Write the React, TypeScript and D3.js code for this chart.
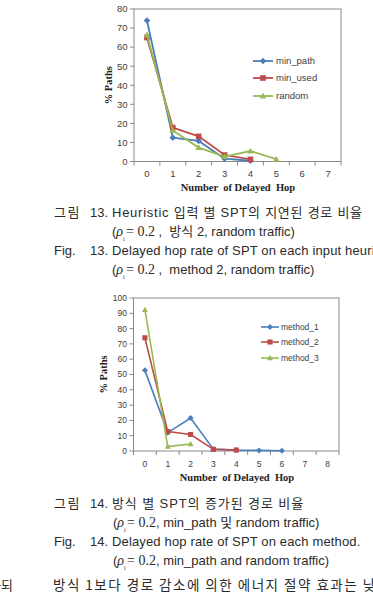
import React from 'react';
import * as d3 from 'd3';

// Fig. 13 data
const hops13 = ['0', '1', '2', '3', '4', '5', '6', '7'];
const yTicks13 = [0, 10, 20, 30, 40, 50, 60, 70, 80];
const minPathValues = [74, 12.5, 10.8, 1.5, 0.4];
const minUsedValues = [65, 17.8, 13.2, 3.4, 1.1];
const randomValues = [66.5, 16.3, 7.3, 2.6, 5.5, 1.2];
const names13 = ['min_path', 'min_used', 'random'];

// Fig. 14 data
const hops14 = ['0', '1', '2', '3', '4', '5', '6', '7', '8'];
const yTicks14 = [0, 10, 20, 30, 40, 50, 60, 70, 80, 90, 100];
const method1Values = [52.7, 12, 21.5, 1.2, 0.6, 0.4, 0.2];
const method2Values = [74, 12.7, 10.8, 1.1, 0.6];
const method3Values = [92.3, 2.9, 4.6];
const names14 = ['method_1', 'method_2', 'method_3'];

const colors = ['#4a7ebb', '#be4b48', '#98b954'];
const shapes = ['diamond', 'square', 'triangle'];
const SANS = '"Liberation Sans", Arial, sans-serif';
const SERIF = '"Liberation Serif", "Times New Roman", serif';
const KR = '"Liberation Sans", "Noto Sans CJK KR", sans-serif';
const TEXT = '#2b2b2b';

function markerPath(shape: string, r: number) {
  if (shape === 'diamond') return `M0,${-r}L${r},0L0,${r}L${-r},0Z`;
  if (shape === 'square') return `M${-r * 0.85},${-r * 0.85}h${r * 1.7}v${r * 1.7}h${-r * 1.7}Z`;
  return `M0,${-r}L${r},${r * 0.75}L${-r},${r * 0.75}Z`;
}

interface ChartProps {
  cats: string[];
  ticks: number[];
  series: number[][];
  names: string[];
  left: number;
  right: number;
  top: number;
  bottom: number;
  tickFont: number;
  labelY: number;
  titleY: number;
  titleX: number;
  yTitleX: number;
  legendX: [number, number, number];
  legendRows: number[];
  legendFont: number;
  marker: number;
  lineW: number;
}

function LineChart(p: ChartProps) {
  const x = d3.scaleBand<string>().domain(p.cats).range([p.left, p.right]);
  const y = d3.scaleLinear().domain([0, d3.max(p.ticks) as number]).range([p.bottom, p.top]);
  const cx = (i: number) => (x(p.cats[i]) as number) + x.bandwidth() / 2;
  const line = d3.line<number>().x((_, i) => cx(i)).y(d => y(d));
  const bounds = p.cats.map(c => x(c) as number).concat([p.right]);
  const axisColor = '#8a8a8a';

  return (
    <g>
      <rect x={p.left} y={p.top} width={p.right - p.left} height={p.bottom - p.top} fill="none" stroke={axisColor} strokeWidth={1} />
      {p.ticks.map(t => (
        <g key={t}>
          <line x1={p.left - 4} x2={p.left} y1={y(t)} y2={y(t)} stroke={axisColor} />
          <text x={p.left - 6.5} y={y(t)} dy="0.35em" textAnchor="end" fontFamily={SANS} fontSize={p.tickFont} fill="#404040">{t}</text>
        </g>
      ))}
      {bounds.map((b, i) => (
        <line key={i} x1={b} x2={b} y1={p.bottom} y2={p.bottom + 4} stroke={axisColor} />
      ))}
      {p.cats.map((c, i) => (
        <text key={c} x={cx(i)} y={p.labelY} dy="0.35em" textAnchor="middle" fontFamily={SANS} fontSize={p.tickFont} fill="#404040">{c}</text>
      ))}
      <text x={p.titleX} y={p.titleY} dy="0.35em" textAnchor="middle" fontFamily={SERIF} fontWeight="bold" fontSize={10.5} fill="#222" style={{ whiteSpace: 'pre' }}>{'Number  of Delayed  Hop'}</text>
      <text transform={`translate(${p.yTitleX},${(p.top + p.bottom) / 2}) rotate(-90)`} dy="0.35em" textAnchor="middle" fontFamily={SERIF} fontWeight="bold" fontSize={10.5} fill="#222">% Paths</text>
      {p.series.map((s, k) => (
        <g key={k}>
          <path d={line(s) as string} fill="none" stroke={colors[k]} strokeWidth={p.lineW} />
          {s.map((v, i) => (
            <path key={i} transform={`translate(${cx(i)},${y(v)})`} d={markerPath(shapes[k], p.marker)} fill={colors[k]} />
          ))}
        </g>
      ))}
      {p.names.map((n, k) => (
        <g key={n}>
          <line x1={p.legendX[0]} x2={p.legendX[1]} y1={p.legendRows[k]} y2={p.legendRows[k]} stroke={colors[k]} strokeWidth={p.lineW} />
          <path transform={`translate(${(p.legendX[0] + p.legendX[1]) / 2},${p.legendRows[k]})`} d={markerPath(shapes[k], p.marker)} fill={colors[k]} />
          <text x={p.legendX[2]} y={p.legendRows[k]} dy="0.35em" fontFamily={SANS} fontSize={p.legendFont} fill="#404040">{n}</text>
        </g>
      ))}
    </g>
  );
}

function Rho({ x, y, rest }: { x: number; y: number; rest: string }) {
  return (
    <text x={x} y={y} dy="0.35em" fontSize={13} fill={TEXT} style={{ whiteSpace: 'pre' }}>
      <tspan fontFamily={SANS}>(</tspan>
      <tspan fontFamily={SERIF} fontStyle="italic" fontSize={14}>ρ</tspan>
      <tspan fontFamily={SERIF} fontSize={6} dy={5}>i</tspan>
      <tspan fontFamily={SERIF} fontSize={14} dy={-5} x={x + 14}>= 0.2</tspan>
      <tspan fontFamily={KR}>{rest}</tspan>
    </text>
  );
}

function CaptionRow({ y, a, b, c, lead = 0, spacing = 0 }: { y: number; a: string; b: string; c: string; lead?: number; spacing?: number }) {
  return (
    <g fontFamily={KR} fontSize={13} fill={TEXT}>
      <text x={54} y={y} dy="0.35em" letterSpacing={lead}>{a}</text>
      <text x={90} y={y} dy="0.35em">{b}</text>
      <text x={112} y={y} dy="0.35em" letterSpacing={spacing} style={{ whiteSpace: 'pre' }}>{c}</text>
    </g>
  );
}

export default function App() {
  return (
    <svg width={373} height={609} style={{ position: 'absolute', left: 0, top: 0, background: '#fff' }}>
      <LineChart
        cats={hops13} ticks={yTicks13} series={[minPathValues, minUsedValues, randomValues]} names={names13}
        left={134} right={341} top={9} bottom={161.5}
        tickFont={9.5} labelY={174} titleY={187.5} titleX={238} yTitleX={108}
        legendX={[253, 273, 276]} legendRows={[61, 78, 96]} legendFont={9.5} marker={3.3} lineW={1.8}
      />
      <CaptionRow y={212} a="그림" b="13." c="Heuristic 입력 별 SPT의 지연된 경로 비율" lead={1.5} spacing={0.75} />
      <Rho x={112} y={231} rest=" ,  방식 2, random traffic)" />
      <CaptionRow y={250} a="Fig." b="13." c="Delayed hop rate of SPT on each input heuristic." spacing={0.15} />
      <Rho x={112} y={269} rest=" ,  method 2, random traffic)" />

      <LineChart
        cats={hops14} ticks={yTicks14} series={[method1Values, method2Values, method3Values]} names={names14}
        left={133.5} right={339} top={298} bottom={451}
        tickFont={8.5} labelY={464} titleY={477.5} titleX={237} yTitleX={103}
        legendX={[261, 279, 281]} legendRows={[327, 342, 358]} legendFont={8.5} marker={3} lineW={1.6}
      />
      <CaptionRow y={503} a="그림" b="14." c="방식 별 SPT의 증가된 경로 비율" lead={1.5} spacing={0.9} />
      <Rho x={113} y={522} rest=", min_path 및 random traffic)" />
      <CaptionRow y={541} a="Fig." b="14." c="Delayed hop rate of SPT on each method." spacing={0.15} />
      <Rho x={113} y={560} rest=", min_path and random traffic)" />

      <text x={13} y={585} dy="0.35em" textAnchor="end" fontFamily='"Noto Sans CJK KR", sans-serif' fontSize={13} fill={TEXT}>하되</text>
      <text x={53} y={585} dy="0.35em" fontFamily='"Noto Sans CJK KR", sans-serif' fontSize={13.5} letterSpacing={1.5} fill={TEXT} style={{ whiteSpace: 'pre' }}>
        방식 1보다 경로 감소에 의한 에너지 절약 효과는 낮
      </text>
    </svg>
  );
}
